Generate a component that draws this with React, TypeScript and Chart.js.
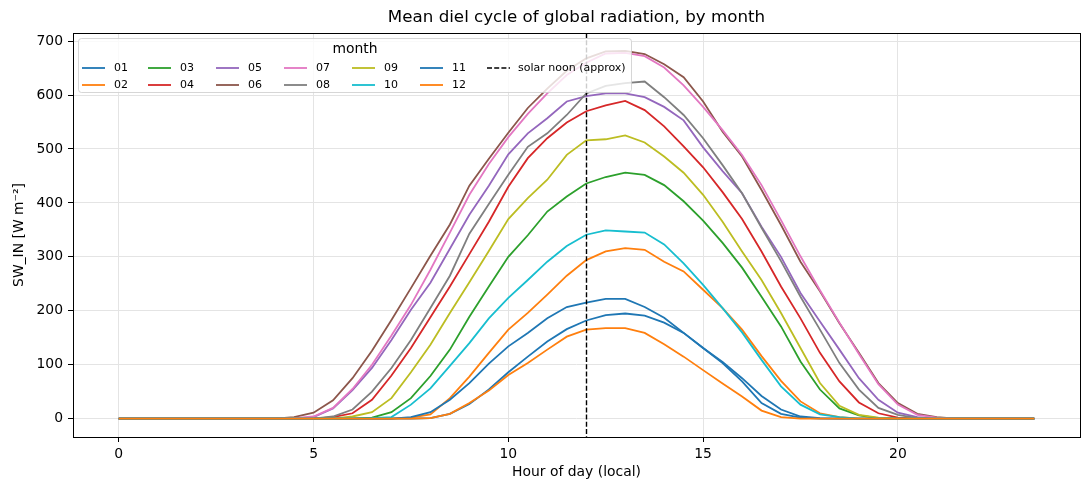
import { useEffect, useRef } from 'react'
import { Chart, registerables } from 'chart.js'

Chart.register(...registerables)

const FONT = '"DejaVu Sans", sans-serif'

// half-hourly time axis, local hour of day
const HOURS = [
  0, 0.5, 1, 1.5, 2, 2.5, 3, 3.5, 4, 4.5, 5, 5.5, 6, 6.5, 7, 7.5,
  8, 8.5, 9, 9.5, 10, 10.5, 11, 11.5, 12, 12.5, 13, 13.5, 14, 14.5, 15, 15.5,
  16, 16.5, 17, 17.5, 18, 18.5, 19, 19.5, 20, 20.5, 21, 21.5, 22, 22.5, 23, 23.5,
]

const MONTHS = ['01', '02', '03', '04', '05', '06', '07', '08', '09', '10', '11', '12']

// mean SW_IN per half hour [W m-2]
const SW_IN_01 = [
  0, 0, 0, 0, 0, 0, 0, 0,
  0, 0, 0, 0, 0, 0, 0, 0,
  1, 9, 27, 54, 86, 115, 143, 166,
  182, 192, 195, 191, 178, 159, 131, 103,
  69, 29, 9, 2, 0, 0, 0, 0,
  0, 0, 0, 0, 0, 0, 0, 0,
]
const SW_IN_02 = [
  0, 0, 0, 0, 0, 0, 0, 0,
  0, 0, 0, 0, 0, 0, 0, 2,
  8, 38, 78, 122, 165, 196, 230, 265,
  294, 310, 316, 313, 291, 273, 239, 205,
  165, 116, 70, 32, 10, 3, 0, 0,
  0, 0, 0, 0, 0, 0, 0, 0,
]
const SW_IN_03 = [
  0, 0, 0, 0, 0, 0, 0, 0,
  0, 0, 0, 0, 0, 2, 12, 38,
  79, 128, 189, 245, 300, 340, 384, 412,
  436, 448, 456, 452, 433, 403, 367, 326,
  280, 226, 171, 106, 54, 19, 6, 1,
  0, 0, 0, 0, 0, 0, 0, 0,
]
const SW_IN_04 = [
  0, 0, 0, 0, 0, 0, 0, 0,
  0, 0, 0, 3, 10, 35, 80, 131,
  188, 245, 305, 365, 430, 483, 520, 549,
  570, 581, 589, 572, 542, 505, 466, 420,
  370, 310, 245, 186, 122, 69, 30, 10,
  2, 0, 0, 0, 0, 0, 0, 0,
]
const SW_IN_05 = [
  0, 0, 0, 0, 0, 0, 0, 0,
  0, 0, 3, 19, 53, 94, 146, 202,
  252, 315, 378, 432, 490, 529, 557, 588,
  598, 603, 603, 596, 578, 553, 503, 459,
  418, 356, 300, 233, 180, 128, 75, 35,
  11, 3, 0, 0, 0, 0, 0, 0,
]
const SW_IN_06 = [
  0, 0, 0, 0, 0, 0, 0, 0,
  0, 3, 11, 34, 75, 126, 183, 242,
  302, 360, 432, 482, 530, 576, 612, 645,
  668, 681, 682, 676, 657, 633, 588, 532,
  486, 424, 359, 291, 236, 177, 122, 66,
  29, 9, 3, 0, 0, 0, 0, 0,
]
const SW_IN_07 = [
  0, 0, 0, 0, 0, 0, 0, 0,
  0, 1, 4, 20, 55, 100, 154, 211,
  276, 345, 415, 472, 522, 565, 603, 637,
  660, 677, 678, 672, 651, 618, 578, 535,
  489, 433, 368, 301, 238, 178, 120, 64,
  26, 7, 2, 0, 0, 0, 0, 0,
]
const SW_IN_08 = [
  0, 0, 0, 0, 0, 0, 0, 0,
  0, 0, 0, 4, 17, 50, 94, 146,
  205, 265, 343, 398, 452, 504, 529, 563,
  603, 617, 622, 625, 596, 563, 520, 470,
  418, 354, 292, 226, 165, 103, 54, 20,
  7, 1, 0, 0, 0, 0, 0, 0,
]
const SW_IN_09 = [
  0, 0, 0, 0, 0, 0, 0, 0,
  0, 0, 0, 0, 4, 12, 38, 86,
  137, 196, 253, 311, 370, 409, 443, 489,
  516, 518, 525, 512, 486, 456, 415, 365,
  310, 257, 196, 131, 66, 24, 7, 2,
  0, 0, 0, 0, 0, 0, 0, 0,
]
const SW_IN_10 = [
  0, 0, 0, 0, 0, 0, 0, 0,
  0, 0, 0, 0, 0, 1, 3, 26,
  56, 98, 140, 186, 224, 257, 291, 320,
  341, 349, 347, 345, 323, 288, 248, 205,
  160, 109, 60, 26, 8, 3, 0, 0,
  0, 0, 0, 0, 0, 0, 0, 0,
]
const SW_IN_11 = [
  0, 0, 0, 0, 0, 0, 0, 0,
  0, 0, 0, 0, 0, 0, 0, 3,
  12, 35, 66, 102, 134, 159, 186, 207,
  215, 222, 222, 207, 187, 159, 131, 105,
  75, 42, 17, 4, 1, 0, 0, 0,
  0, 0, 0, 0, 0, 0, 0, 0,
]
const SW_IN_12 = [
  0, 0, 0, 0, 0, 0, 0, 0,
  0, 0, 0, 0, 0, 0, 0, 0,
  1, 9, 29, 52, 81, 103, 128, 152,
  165, 168, 168, 159, 138, 115, 90, 65,
  41, 15, 3, 0, 0, 0, 0, 0,
  0, 0, 0, 0, 0, 0, 0, 0,
]

const SERIES = [
  SW_IN_01, SW_IN_02, SW_IN_03, SW_IN_04, SW_IN_05, SW_IN_06,
  SW_IN_07, SW_IN_08, SW_IN_09, SW_IN_10, SW_IN_11, SW_IN_12,
]

// matplotlib tab10, cycling after 10
const COLORS = [
  '#1f77b4', '#ff7f0e', '#2ca02c', '#d62728', '#9467bd', '#8c564b',
  '#e377c2', '#7f7f7f', '#bcbd22', '#17becf', '#1f77b4', '#ff7f0e',
]

const X_TICKS = [0, 5, 10, 15, 20]
const Y_TICKS = [0, 100, 200, 300, 400, 500, 600, 700]
const NOON_HOUR = 12
const NOON_LABEL = 'solar noon (approx)'

const LINE_W = 1.8
const NOON_DASH = [5, 2.2]

// legend column offsets from the plot's left edge (7 columns, column-major)
const LEGEND_COL_X = [9, 75, 143, 211, 279, 347, 414]

const decorPlugin = {
  id: 'mplDecor',
  afterDatasetsDraw(chart: Chart) {
    const { ctx, chartArea: ca, scales } = chart
    const x = Math.round(scales.x.getPixelForValue(NOON_HOUR)) + 0.5
    ctx.save()
    ctx.strokeStyle = '#000'
    ctx.lineWidth = 1.4
    ctx.setLineDash(NOON_DASH)
    ctx.beginPath()
    ctx.moveTo(x, ca.top)
    ctx.lineTo(x, ca.bottom)
    ctx.stroke()
    ctx.setLineDash([])
    // axes frame on all four sides
    ctx.lineWidth = 1
    ctx.strokeRect(Math.round(ca.left) + 0.5, Math.round(ca.top) + 0.5,
      Math.round(ca.right - ca.left), Math.round(ca.bottom - ca.top))
    ctx.restore()
  },
  afterDraw(chart: Chart) {
    const { ctx, chartArea: ca } = chart
    const midX = (ca.left + ca.right) / 2
    ctx.save()
    ctx.fillStyle = '#000'
    ctx.textAlign = 'center'
    ctx.textBaseline = 'middle'

    ctx.font = `16.7px ${FONT}`
    ctx.fillText('Mean diel cycle of global radiation, by month', midX, 18)

    ctx.font = `13.9px ${FONT}`
    ctx.fillText('Hour of day (local)', midX, 472)

    ctx.save()
    ctx.translate(19, (ca.top + ca.bottom) / 2)
    ctx.rotate(-Math.PI / 2)
    ctx.fillText('SW_IN [W m\u207B\u00B2]', 0, 0)
    ctx.restore()

    // legend box
    const bx = ca.left + 5.5
    const by = ca.top + 5.5
    const bw = 553
    const bh = 54
    const r = 3
    ctx.beginPath()
    ctx.moveTo(bx + r, by)
    ctx.arcTo(bx + bw, by, bx + bw, by + bh, r)
    ctx.arcTo(bx + bw, by + bh, bx, by + bh, r)
    ctx.arcTo(bx, by + bh, bx, by, r)
    ctx.arcTo(bx, by, bx + bw, by, r)
    ctx.closePath()
    ctx.fillStyle = 'rgba(255,255,255,0.8)'
    ctx.fill()
    ctx.strokeStyle = 'rgba(204,204,204,0.8)'
    ctx.lineWidth = 1
    ctx.stroke()

    ctx.fillStyle = '#000'
    ctx.font = `13.9px ${FONT}`
    ctx.fillText('month', bx + bw / 2, by + 11)

    ctx.font = `11px ${FONT}`
    ctx.textAlign = 'left'
    const rowY = [by + 29.5, by + 46.5]
    const items = MONTHS.map((m, i) => ({ label: m, color: COLORS[i], dash: false }))
    items.push({ label: NOON_LABEL, color: '#000', dash: true })
    items.forEach((it, i) => {
      const col = Math.floor(i / 2)
      const row = i % 2
      const hx = ca.left + LEGEND_COL_X[col]
      const hy = rowY[row]
      ctx.strokeStyle = it.color
      ctx.lineWidth = it.dash ? 1.4 : LINE_W
      ctx.setLineDash(it.dash ? NOON_DASH : [])
      ctx.beginPath()
      ctx.moveTo(hx, hy)
      ctx.lineTo(hx + 23, hy)
      ctx.stroke()
      ctx.setLineDash([])
      ctx.fillText(it.label, hx + (it.dash ? 31 : 32), hy + 0.5)
    })
    ctx.restore()
  },
}

export default function App() {
  const canvasRef = useRef<HTMLCanvasElement>(null)

  useEffect(() => {
    document.body.style.margin = '0'
    const canvas = canvasRef.current
    if (!canvas) return

    const chart = new Chart(canvas, {
      type: 'line',
      data: {
        datasets: MONTHS.map((m, i) => ({
          label: m,
          data: HOURS.map((h, j) => ({ x: h, y: SERIES[i][j] })),
          borderColor: COLORS[i],
          backgroundColor: COLORS[i],
          borderWidth: LINE_W,
          pointRadius: 0,
          fill: false,
          tension: 0,
          order: MONTHS.length - i,
        })),
      },
      options: {
        responsive: false,
        animation: false,
        events: [],
        layout: { padding: { top: 33, right: 9, bottom: 0, left: 0 } },
        plugins: {
          legend: { display: false },
          tooltip: { enabled: false },
          title: { display: false },
        },
        scales: {
          x: {
            type: 'linear',
            min: -1.175,
            max: 24.675,
            afterFit: (s: any) => { s.height = 53 },
            afterBuildTicks: (s: any) => { s.ticks = X_TICKS.map((v) => ({ value: v })) },
            grid: { color: '#e4e4e4', lineWidth: 1, tickColor: '#000', tickLength: 5 },
            border: { display: false },
            ticks: { color: '#000', padding: 4, maxRotation: 0, font: { family: FONT, size: 13.9 } },
          },
          y: {
            type: 'linear',
            min: -34,
            max: 715,
            afterFit: (s: any) => { s.width = 73 },
            afterBuildTicks: (s: any) => { s.ticks = Y_TICKS.map((v) => ({ value: v })) },
            grid: { color: '#e4e4e4', lineWidth: 1, tickColor: '#000', tickLength: 5 },
            border: { display: false },
            ticks: { color: '#000', padding: 5, font: { family: FONT, size: 13.9 } },
          },
        },
      },
      plugins: [decorPlugin],
    })

    return () => chart.destroy()
  }, [])

  return (
    <div style={{ width: 1089, height: 490, background: '#fff' }}>
      <canvas ref={canvasRef} width={1089} height={490} style={{ width: 1089, height: 490 }} />
    </div>
  )
}
